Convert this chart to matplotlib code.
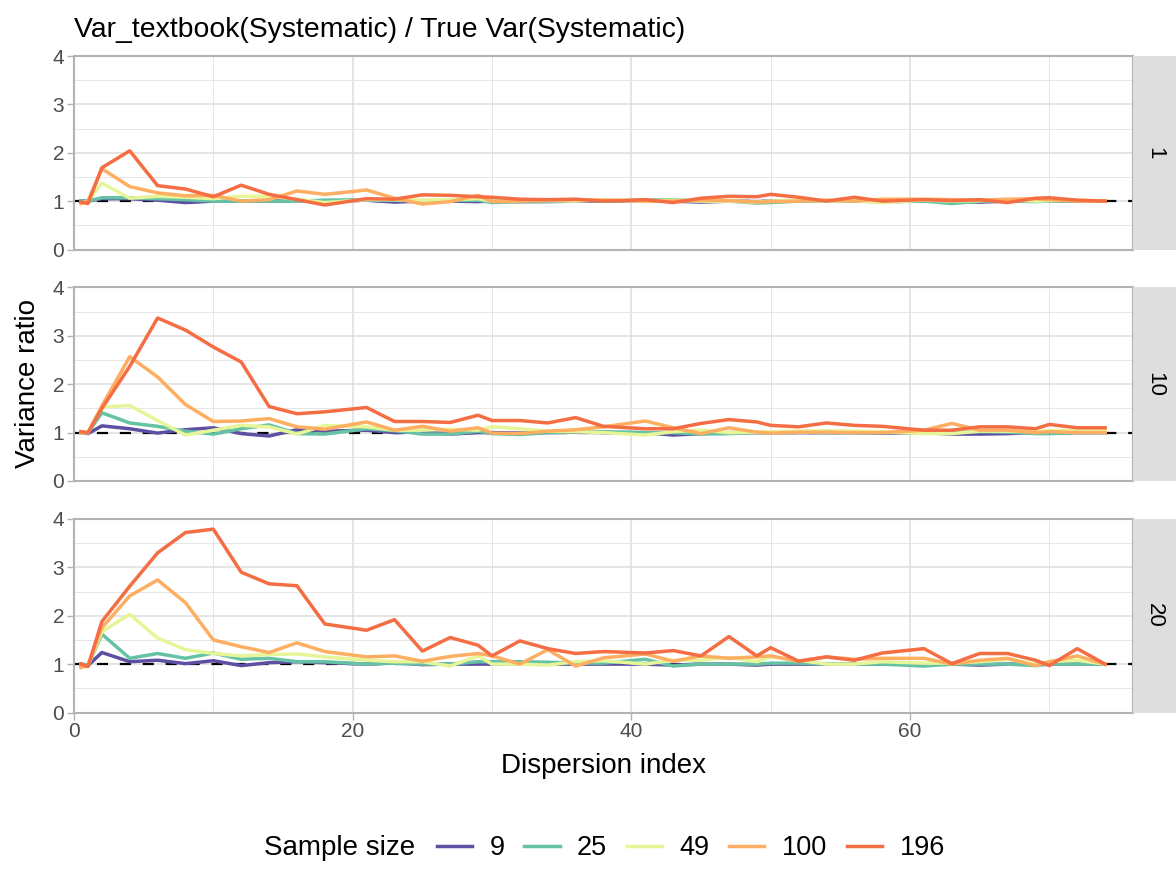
import matplotlib
matplotlib.use("Agg")
import matplotlib.pyplot as plt
from matplotlib.lines import Line2D

plt.rcParams['font.family'] = ['Liberation Sans', 'DejaVu Sans']
plt.rcParams['lines.scale_dashes'] = False

# dispersion index values (shared x grid)
dispersion = [0.5, 1, 2, 4, 6, 8, 10, 12, 14, 16, 18, 21, 23, 25, 27, 29, 30, 32, 34, 36,
              38, 41, 43, 45, 47, 49, 50, 52, 54, 56, 58, 61, 63, 65, 67, 69, 70, 72, 74]

sample_sizes = ['9', '25', '49', '100', '196']
facets = ['1', '10', '20']
colors = ['#5E4FA2', '#66C2A5', '#E6F598', '#FDAE61', '#F46D43']

# facet "1"
f1_n9 = [1.0, 1.0, 1.05, 1.05, 1.02, 0.97, 1.0, 1.0, 1.0, 1.01, 1.0, 1.02, 0.98, 1.0, 1.0, 0.99, 1.0, 0.99, 0.99, 1.0,
         1.0, 1.01, 1.0, 0.98, 1.0, 0.99, 1.0, 1.0, 1.0, 1.0, 0.99, 1.0, 1.0, 0.98, 1.0, 1.0, 1.0, 1.0, 1.0]
f1_n25 = [1.0, 1.0, 1.07, 1.07, 1.05, 1.03, 1.0, 1.0, 1.0, 1.0, 1.02, 1.03, 1.02, 1.0, 1.01, 1.02, 0.97, 0.99, 1.0, 1.02,
          1.0, 1.02, 1.03, 1.0, 1.0, 0.96, 0.97, 1.0, 1.0, 1.0, 1.0, 1.0, 0.95, 1.0, 1.0, 0.99, 1.0, 1.0, 1.0]
f1_n49 = [0.95, 1.0, 1.37, 1.06, 1.10, 1.08, 1.05, 1.10, 1.10, 1.04, 0.97, 1.03, 1.03, 1.02, 1.03, 1.05, 1.0, 1.02, 1.01, 1.0,
          1.03, 1.0, 1.02, 1.0, 1.0, 0.98, 1.0, 1.02, 1.0, 1.01, 0.97, 1.02, 1.0, 1.01, 1.03, 1.0, 1.01, 1.02, 1.0]
f1_n100 = [0.95, 1.0, 1.67, 1.30, 1.17, 1.11, 1.12, 1.0, 1.03, 1.21, 1.14, 1.23, 1.06, 0.94, 0.99, 1.12, 0.99, 1.0, 1.02, 1.03,
           1.02, 1.0, 1.0, 1.02, 1.01, 0.98, 0.99, 1.0, 1.02, 1.0, 1.04, 1.04, 1.03, 1.02, 1.04, 1.05, 1.03, 1.0, 1.0]
f1_n196 = [0.98, 0.95, 1.69, 2.04, 1.32, 1.25, 1.09, 1.33, 1.14, 1.03, 0.92, 1.05, 1.04, 1.13, 1.12, 1.09, 1.08, 1.04, 1.03, 1.04,
           1.0, 1.03, 0.97, 1.06, 1.10, 1.09, 1.14, 1.08, 1.0, 1.08, 1.0, 1.03, 1.01, 1.03, 0.97, 1.06, 1.07, 1.02, 1.0]

# facet "10"
f10_n9 = [1.0, 0.98, 1.14, 1.08, 0.99, 1.06, 1.1, 0.98, 0.93, 1.06, 1.03, 1.05, 1.0, 1.02, 0.97, 1.0, 1.0, 0.99, 1.0, 1.01,
          1.0, 1.0, 0.95, 0.98, 1.0, 1.0, 1.0, 1.0, 1.0, 1.0, 0.99, 1.0, 0.97, 0.97, 0.98, 1.0, 0.99, 1.0, 1.0]
f10_n25 = [1.0, 1.0, 1.41, 1.2, 1.13, 1.03, 0.97, 1.08, 1.16, 0.98, 0.97, 1.08, 1.04, 0.97, 0.97, 1.03, 0.98, 0.96, 1.0, 1.02,
           1.02, 1.0, 1.0, 0.97, 0.98, 1.0, 1.0, 1.01, 1.0, 1.0, 1.0, 1.0, 1.0, 1.02, 1.01, 0.98, 0.98, 1.0, 1.0]
f10_n49 = [1.0, 1.0, 1.53, 1.56, 1.25, 0.95, 1.05, 1.15, 1.12, 0.97, 1.15, 1.12, 1.05, 1.05, 1.07, 1.05, 1.12, 1.08, 1.03, 1.02,
           1.0, 0.95, 1.02, 1.05, 1.0, 1.01, 1.02, 1.03, 1.04, 1.03, 1.02, 0.98, 0.98, 1.03, 1.03, 1.02, 1.04, 1.05, 1.05]
f10_n100 = [1.0, 1.0, 1.55, 2.57, 2.15, 1.58, 1.23, 1.24, 1.29, 1.12, 1.07, 1.22, 1.05, 1.13, 1.03, 1.1, 0.99, 0.98, 1.03, 1.06,
            1.12, 1.24, 1.1, 0.98, 1.1, 1.01, 0.99, 1.01, 1.01, 1.0, 1.0, 1.05, 1.19, 1.05, 1.05, 1.0, 1.02, 1.0, 1.0]
f10_n196 = [1.02, 1.0, 1.5, 2.37, 3.37, 3.12, 2.77, 2.46, 1.54, 1.39, 1.43, 1.52, 1.23, 1.23, 1.21, 1.36, 1.25, 1.25, 1.2, 1.31,
            1.13, 1.08, 1.08, 1.19, 1.27, 1.22, 1.15, 1.12, 1.2, 1.15, 1.13, 1.05, 1.05, 1.12, 1.12, 1.08, 1.17, 1.1, 1.1]

# facet "20"
f20_n9 = [1.0, 0.97, 1.24, 1.05, 1.08, 1.01, 1.07, 0.97, 1.03, 1.05, 1.03, 1.0, 1.03, 0.99, 1.0, 1.0, 1.0, 1.01, 1.0, 1.0,
          1.0, 1.0, 0.98, 1.0, 1.0, 0.98, 1.0, 1.0, 1.0, 1.0, 1.0, 1.0, 1.0, 0.98, 1.0, 1.0, 1.0, 1.0, 1.0]
f20_n25 = [1.0, 0.97, 1.62, 1.12, 1.22, 1.12, 1.23, 1.1, 1.12, 1.05, 1.05, 1.0, 1.02, 1.0, 1.0, 1.05, 1.05, 1.05, 1.04, 1.02,
           1.02, 1.1, 0.96, 1.0, 1.0, 1.0, 1.02, 1.02, 1.0, 1.0, 1.0, 0.96, 1.0, 1.0, 1.0, 0.97, 1.0, 1.0, 1.0]
f20_n49 = [0.97, 0.97, 1.67, 2.03, 1.54, 1.3, 1.22, 1.17, 1.2, 1.21, 1.15, 1.08, 1.05, 1.05, 0.96, 1.17, 1.0, 1.0, 0.98, 1.05,
           1.07, 1.0, 1.08, 1.08, 1.14, 1.05, 1.15, 1.08, 1.0, 1.0, 1.05, 1.02, 1.02, 1.05, 1.1, 1.0, 1.05, 1.08, 1.0]
f20_n100 = [0.93, 0.97, 1.75, 2.41, 2.74, 2.27, 1.5, 1.36, 1.24, 1.44, 1.26, 1.15, 1.17, 1.06, 1.16, 1.22, 1.17, 1.0, 1.3, 0.96,
            1.13, 1.21, 1.06, 1.17, 1.12, 1.15, 1.17, 1.06, 1.15, 1.1, 1.12, 1.12, 1.0, 1.08, 1.12, 0.97, 1.05, 1.17, 1.0]
f20_n196 = [1.0, 0.95, 1.88, 2.61, 3.3, 3.72, 3.79, 2.9, 2.66, 2.62, 1.83, 1.7, 1.92, 1.27, 1.55, 1.39, 1.17, 1.48, 1.32, 1.22,
            1.26, 1.23, 1.28, 1.17, 1.57, 1.17, 1.34, 1.06, 1.15, 1.08, 1.23, 1.32, 1.01, 1.22, 1.22, 1.08, 0.97, 1.32, 1.0]

panel_series = [
    [f1_n9, f1_n25, f1_n49, f1_n100, f1_n196],
    [f10_n9, f10_n25, f10_n49, f10_n100, f10_n196],
    [f20_n9, f20_n25, f20_n49, f20_n100, f20_n196],
]

W, H = 1176, 877
fig = plt.figure(figsize=(W / 100, H / 100), dpi=100)

left, right = 74, 1133
panel_tops = [56, 287.5, 519]
panel_h = 193.5
strip_w = 43

for i, (facet, series) in enumerate(zip(facets, panel_series)):
    top = panel_tops[i]
    ax = fig.add_axes([left / W, 1 - (top + panel_h) / H, (right - left) / W, panel_h / H])
    ax.set_xlim(0, 76)
    ax.set_ylim(0, 4)
    ax.set_xticks([0, 20, 40, 60])
    ax.set_xticks([10, 30, 50, 70], minor=True)
    ax.set_yticks([0, 1, 2, 3, 4])
    ax.set_yticks([0.5, 1.5, 2.5, 3.5], minor=True)
    ax.grid(True, which='major', color='#DEDEDE', linewidth=1.1)
    ax.grid(True, which='minor', color='#E6E6E6', linewidth=0.7)
    ax.set_axisbelow(True)
    for s in ax.spines.values():
        s.set_color('#B3B3B3')
        s.set_linewidth(1.5)
    ax.tick_params(which='major', length=5, width=1.0, color='#B3B3B3',
                   labelsize=15, labelcolor='#4D4D4D', pad=2)
    ax.tick_params(which='minor', length=0)
    if i < 2:
        # only the bottom facet carries the x axis
        ax.tick_params(axis='x', bottom=False, labelbottom=False)

    ax.axhline(1, color='black', linewidth=1.6, linestyle=(0, (8, 8.5)), zorder=1)
    for vals, c in zip(series, colors):
        ax.plot(dispersion, vals, color=c, linewidth=2.5, zorder=2)

    # facet strip on the right
    sax = fig.add_axes([right / W, 1 - (top + panel_h) / H, strip_w / W, panel_h / H])
    sax.set_facecolor('#DEDEDE')
    sax.set_xticks([])
    sax.set_yticks([])
    for s in sax.spines.values():
        s.set_visible(False)
    sax.text(0.5, 0.5, facet, rotation=-90, ha='center', va='center',
             fontsize=16, color='black', transform=sax.transAxes)

fig.text(left / W, 1 - 30 / H, 'Var_textbook(Systematic) / True Var(Systematic)',
         fontsize=20.4, ha='left', va='center')
fig.text(28 / W, 1 - 384 / H, 'Variance ratio', rotation=90, fontsize=20,
         ha='center', va='center')
fig.text((left + right) / 2 / W, 1 - 766 / H, 'Dispersion index', fontsize=20,
         ha='center', va='center')

# legend
fig.text(264 / W, 1 - 848 / H, 'Sample size', fontsize=20, ha='left', va='center')
handles = [Line2D([0], [0], color=c, linewidth=2.5) for c in colors]
fig.legend(handles, sample_sizes, loc='center left', bbox_to_anchor=(437 / W, 1 - 848 / H),
           ncol=5, frameon=False, fontsize=19.5, borderpad=0, borderaxespad=0,
           handlelength=1.3, handletextpad=0.65, columnspacing=0.72)

fig.savefig('out.png', dpi=100)
